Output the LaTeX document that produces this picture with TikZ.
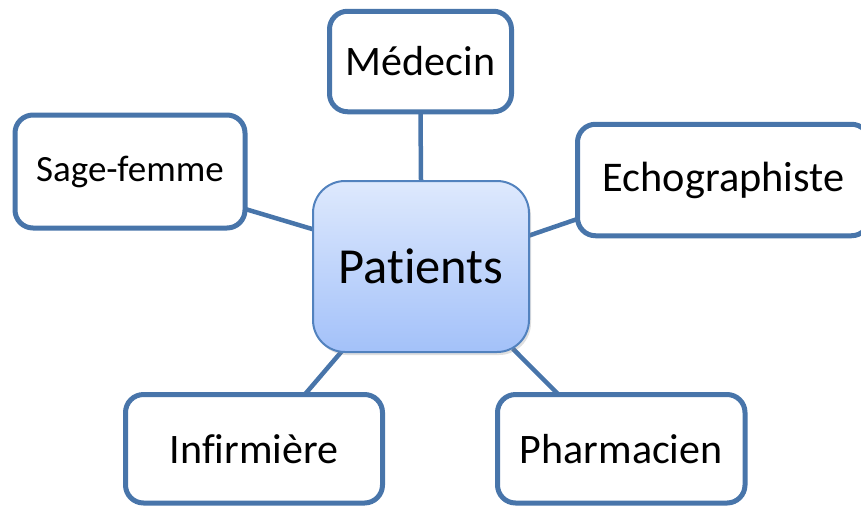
\documentclass[tikz,border=0pt]{standalone}
\usepackage{fontspec}
\setmainfont{Carlito}[Ligatures=NoCommon]
\usetikzlibrary{shadows,backgrounds}
\definecolor{boxblue}{RGB}{72,117,170}
\definecolor{patborder}{RGB}{82,130,190}
\definecolor{pattop}{RGB}{222,233,253}
\definecolor{patbot}{RGB}{163,193,249}
\tikzset{
  rolebox/.style={draw=boxblue, line width=5pt, fill=white, rounded corners=18pt,
    inner sep=0pt, text=black},
  patbox/.style={draw=patborder, line width=2pt, rounded corners=32pt,
    top color=pattop, bottom color=patbot, inner sep=0pt,
    minimum width=216pt, minimum height=171pt,
    drop shadow={opacity=0.25, shadow xshift=2pt, shadow yshift=-3pt},
    font=\fontsize{50.5}{56}\selectfont},
  link/.style={draw=boxblue, line width=4.5pt, shorten <=-6pt, shorten >=-6pt},
}
\begin{document}
\begin{tikzpicture}[x=1pt,y=-1pt]
\useasboundingbox (0,0) rectangle (861,507);
\node[patbox] (pat) at (421,266.5) {Patients};
\node[rolebox, minimum width=182pt, minimum height=100.5pt, font=\fontsize{42}{46}\selectfont] (med) at (420.5,61.5) {Médecin};
\node[rolebox, minimum width=230pt, minimum height=113pt, font=\fontsize{37}{40}\selectfont] (sf) at (130,171.5) {Sage-femme};
\node[rolebox, minimum width=292pt, minimum height=111.5pt, font=\fontsize{42.3}{46}\selectfont] (echo) at (723.5,180) {Echographiste};
\node[rolebox, minimum width=257pt, minimum height=108.5pt, font=\fontsize{42}{46}\selectfont] (inf) at (254,448.75) {Infirmière};
\node[rolebox, minimum width=247.5pt, minimum height=108.5pt, font=\fontsize{42}{46}\selectfont] (pha) at (621.25,448.75) {Pharmacien};
\begin{scope}[on background layer]
\draw[link] (med.south) -- (pat.north);
\draw[link] (sf.-18.2) -- (pat.161.3);
\draw[link] (echo.195.3) -- (pat.16.3);
\draw[link] (inf.47) -- (pat.227.6);
\draw[link] (pha.139.6) -- (pat.-42.3);
\end{scope}
\end{tikzpicture}
\end{document}
